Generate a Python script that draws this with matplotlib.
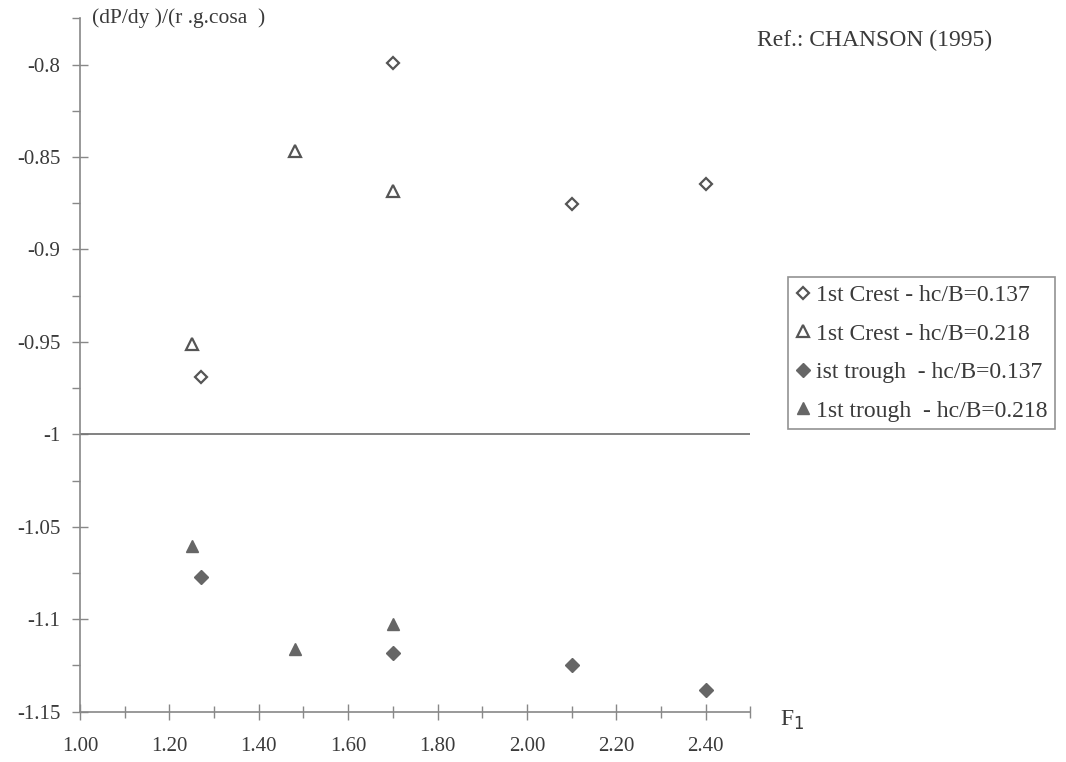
import numpy as np
import matplotlib.pyplot as plt
from matplotlib.ticker import MultipleLocator, FormatStrFormatter

plt.rcParams['font.family'] = ['Liberation Serif', 'DejaVu Serif']

# 1st crest - hc/B=0.137 (open diamonds)
crest137_x = [1.27, 1.70, 2.10, 2.40]
crest137_y = [-0.969, -0.799, -0.8755, -0.8645]
# 1st crest - hc/B=0.218 (open triangles)
crest218_x = [1.25, 1.48, 1.70]
crest218_y = [-0.951, -0.8465, -0.8685]
# 1st trough - hc/B=0.137 (filled diamonds)
trough137_x = [1.27, 1.70, 2.10, 2.40]
trough137_y = [-1.077, -1.1185, -1.1245, -1.1385]
# 1st trough - hc/B=0.218 (filled triangles)
trough218_x = [1.25, 1.48, 1.70]
trough218_y = [-1.0605, -1.116, -1.1025]

ytick_vals = [-1.15, -1.1, -1.05, -1.0, -0.95, -0.9, -0.85, -0.8]
ytick_labels = ["-1.15", "-1.1", "-1.05", "-1", "-0.95", "-0.9", "-0.85", "-0.8"]

grey = "#555555"
txt = "#3a3a3a"

fig = plt.figure(figsize=(10.66, 7.62), dpi=100)
ax = fig.add_axes([0.075, 0.066, 0.629, 0.910])

ax.plot(crest137_x, crest137_y, ls="none", marker="D", ms=6.5, mfc="white",
        mec=grey, mew=1.6, label="1st Crest - hc/B=0.137")
ax.plot(crest218_x, crest218_y, ls="none", marker="^", ms=8, mfc="white",
        mec=grey, mew=1.6, label="1st Crest - hc/B=0.218")
ax.plot(trough137_x, trough137_y, ls="none", marker="D", ms=7, mfc="#666666",
        mec="#666666", label="ist trough  - hc/B=0.137")
ax.plot(trough218_x, trough218_y, ls="none", marker="^", ms=9, mfc="#666666",
        mec="#666666", label="1st trough  - hc/B=0.218")

ax.axhline(-1.0, color="#777777", lw=1.3)

ax.set_xlim(1.0, 2.5)
ax.set_ylim(-1.15, -0.775)
ax.xaxis.set_major_locator(MultipleLocator(0.2))
ax.xaxis.set_minor_locator(MultipleLocator(0.1))
ax.xaxis.set_major_formatter(FormatStrFormatter("%.2f"))
ax.yaxis.set_minor_locator(MultipleLocator(0.025))
ax.set_yticks(ytick_vals)
ax.set_yticklabels(ytick_labels)

for s in ["top", "right"]:
    ax.spines[s].set_visible(False)
for s in ["left", "bottom"]:
    ax.spines[s].set_color("#888888")
    ax.spines[s].set_linewidth(1.2)

ax.tick_params(which="major", direction="inout", length=12, width=1, color="#888888",
               labelsize=15, labelcolor=txt)
ax.tick_params(axis="y", which="minor", direction="out", length=6, width=1, color="#888888")
ax.tick_params(axis="x", which="minor", direction="inout", length=8, width=1, color="#888888")
ax.tick_params(axis="x", pad=12)
ax.tick_params(axis="y", pad=8)

fig.text(0.086, 0.976, "(dP/dy )/(r .g.cosa  )", fontsize=15.5, color=txt, va="center")
fig.text(0.732, 0.054, "F$_1$", fontsize=17, color=txt, va="center")
fig.text(0.710, 0.947, "Ref.: CHANSON (1995)", fontsize=17, color=txt, va="center")

leg = fig.legend(loc="upper left", bbox_to_anchor=(0.739, 0.636), fontsize=17,
                 frameon=True, fancybox=False, handletextpad=0.2, handlelength=0.7,
                 borderpad=0.3, labelspacing=0.72, borderaxespad=0)
leg.get_frame().set_edgecolor("#777777")
leg.get_frame().set_linewidth(1.2)
for t in leg.get_texts():
    t.set_color(txt)

fig.savefig("out.png", dpi=100)
